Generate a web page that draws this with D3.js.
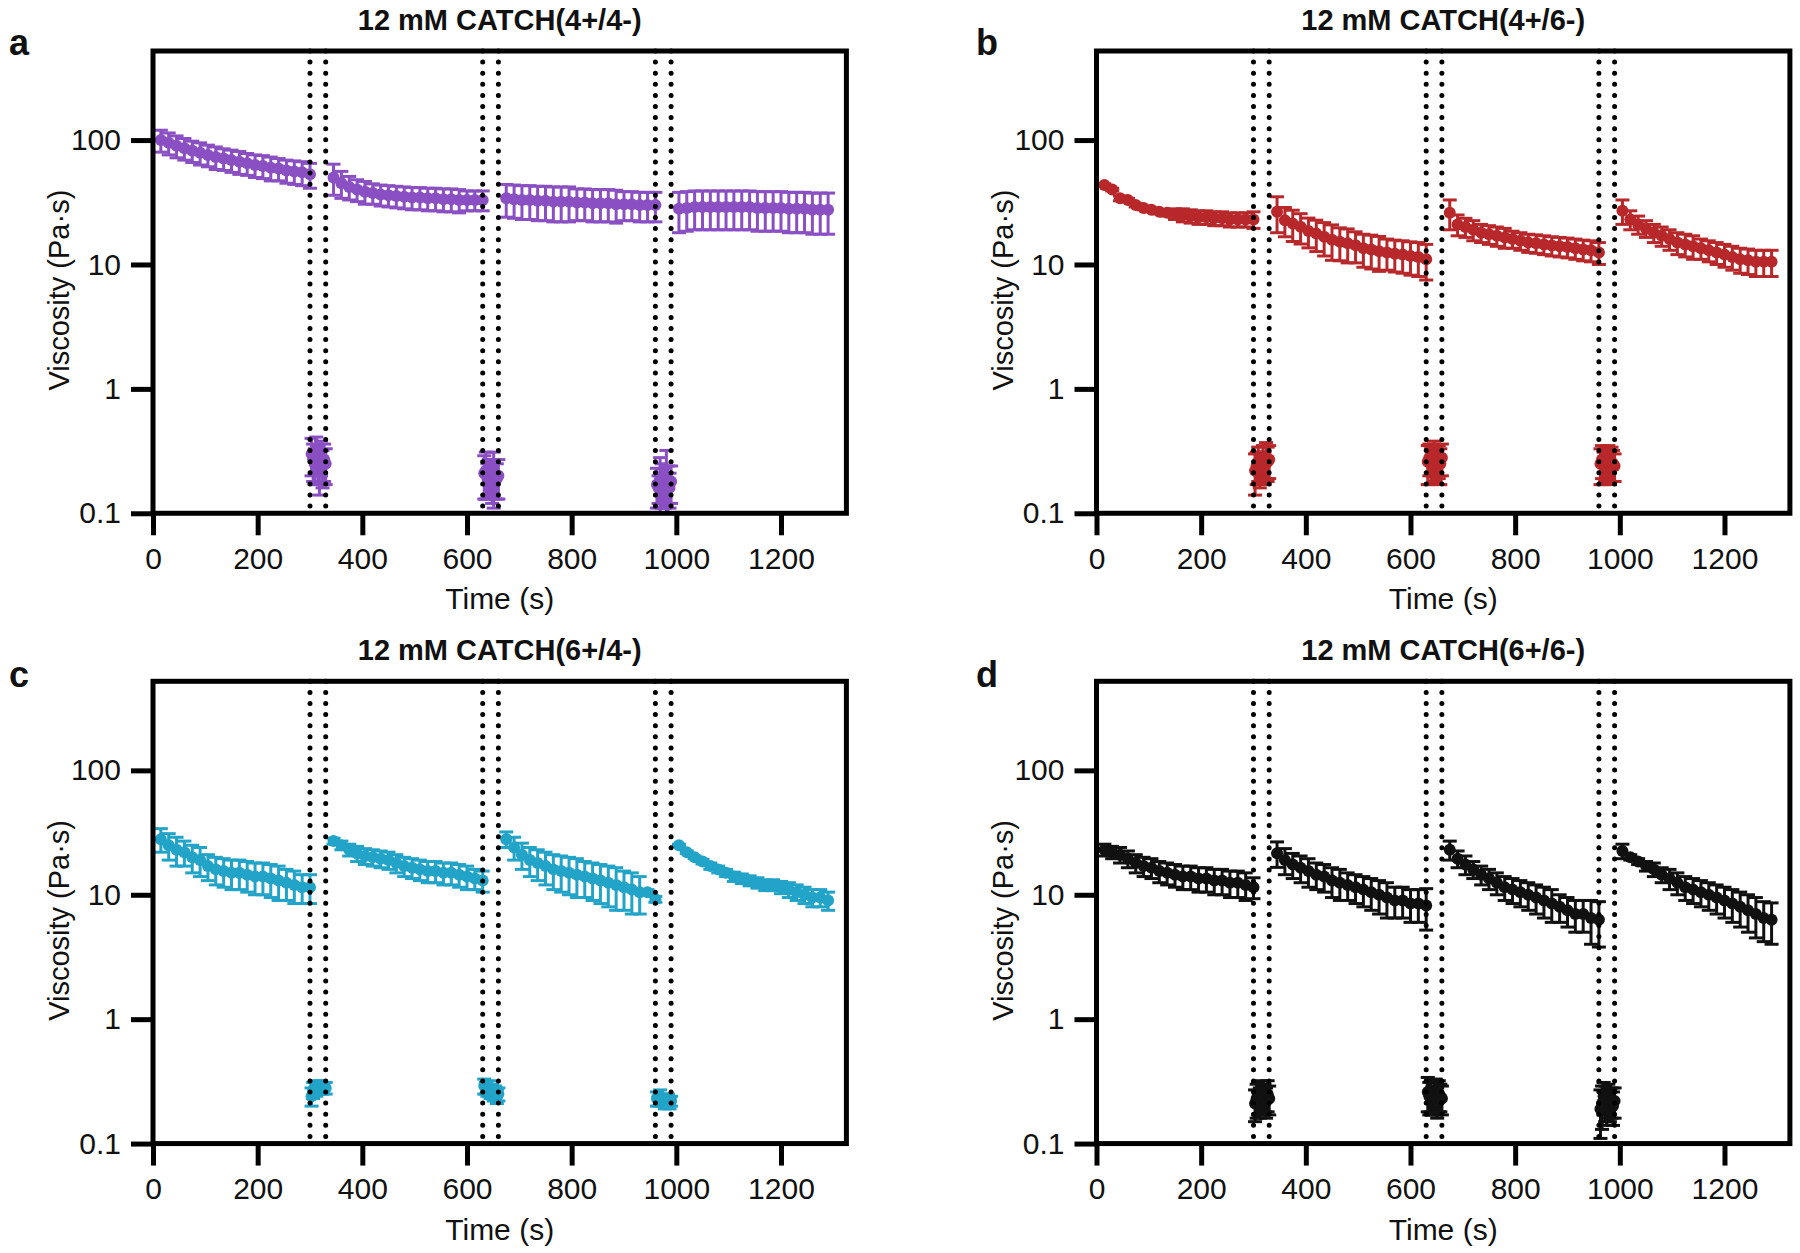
<!DOCTYPE html>
<html><head><meta charset="utf-8">
<script src="https://cdn.jsdelivr.net/npm/d3@7"></script>
<style>body{margin:0;background:#fff} svg{display:block} text{font-family:"Liberation Sans",Arial,Helvetica,sans-serif;fill:#111}</style>
</head><body><svg id="chart" width="1800" height="1253"></svg>
<script>
// ---- shared structure ----
const lowTimes = [15,30,45,60,75,90,105,120,135,150,165,180,195,210,225,240,255,270,285,300];
const highTimes = [3,6,9,12,15,18,21,24,27,30];
const lowStarts = [0,330,660,990];
const highStarts = [300,630,960];
const switchTimes = [300,330,630,660,960,990];
const xTicks = [0,200,400,600,800,1000,1200];
const xTickLabels = ["0","200","400","600","800","1000","1200"];
const yTicks = [0.1,1,10,100];
const yTickLabels = ["0.1","1","10","100"];
const titles = ["12 mM CATCH(4+/4-)","12 mM CATCH(4+/6-)","12 mM CATCH(6+/4-)","12 mM CATCH(6+/6-)"];
const letters = ["a","b","c","d"];
const colors = ["#8A4FC2","#B8282B","#22A3C8","#111111"];

// ---- panel a ----
const aLowMean = [
 [100,95,90,86,82,79,76,73,71,69,67,65,63,62,60,59,57,56,55,53],
 [50,45,42,40,38.5,37.5,36.5,36,35.5,35,34.5,34.5,34,34,33.5,33.5,33,33,33,33],
 [34,33.5,33,33,32.5,32.5,32,32,32,31.5,31.5,31,31,31,30.5,30.5,30.5,30,30,30],
 [28,28.5,29,29,29,29,29,29,29,29,28.5,28.5,28.5,28.5,28,28,28,27.5,27.5,27.5]];
const aLowErr = [
 [20,19,18,17,16,16,15,15,14,14,14,13,13,13,13,12,12,12,12,12],
 [14,11,9,8,8,7,7,7,7,7,7,7,7,7,7,7,7,6,6,6],
 [10,10,10,10,10,10,10,10,10,9,9,9,9,9,9,8,8,8,8,8],
 [10,10,10,10,10,10,10,10,10,10,10,10,10,10,10,10,10,10,10,10]];
const aHighMean = [
 [0.30,0.27,0.25,0.31,0.26,0.22,0.29,0.24,0.27,0.25],
 [0.21,0.22,0.19,0.20,0.20,0.18,0.21,0.20,0.19,0.20],
 [0.17,0.16,0.19,0.18,0.16,0.17,0.20,0.17,0.16,0.18]];
const aHighErr = [
 [0.10,0.09,0.08,0.10,0.09,0.08,0.09,0.08,0.09,0.08],
 [0.08,0.09,0.06,0.07,0.06,0.06,0.10,0.07,0.06,0.07],
 [0.06,0.04,0.09,0.07,0.05,0.06,0.12,0.07,0.05,0.06]];

// ---- panel b ----
const bLowMean = [
 [43.5,40,34,33,30,28.5,27.5,26.5,26,25.5,25,24.5,24,24,23.5,23.5,23,23,23,23],
 [26.5,22.7,21.3,20.1,18.6,17.7,16.7,15.8,15.2,14.8,14.3,13.5,13.2,12.8,12.5,12.2,12,11.7,11.5,11],
 [26,21,20,19,18,17.5,17,16.5,16,15.5,15,14.8,14.5,14.2,14,13.8,13.5,13.2,13,12.5],
 [27,23,21,19.5,18,17,16,15,14.5,14,13.5,13,12.5,12,11.5,11,10.8,10.5,10.5,10.5]];
const bLowErr = [
 [1,1,1.5,1,1,1,1,1,1.5,2.5,3,3,3,3,3,3,3,3,3,3.5],
 [8.5,6,6,5.5,5,5,5,5,4.5,4.5,4,4,4,4,3.5,3.5,3.5,3.5,3.5,3.5],
 [7,4,3.5,3.5,3,3,3,3,2.5,2.5,2.5,2.5,2.5,2.5,2.5,2.5,2.5,2.5,2.5,2.5],
 [6,4,3.5,3,3,3,3,3,3,3,2.5,2.5,2.5,2.5,2.5,2.5,2.5,2.5,2.5,2.5]];
const bHighMean = [
 [0.22,0.24,0.26,0.23,0.25,0.27,0.24,0.28,0.26,0.27],
 [0.26,0.28,0.25,0.27,0.29,0.26,0.28,0.27,0.25,0.28],
 [0.25,0.27,0.24,0.26,0.25,0.27,0.24,0.26,0.25,0.24]];
const bHighErr = [
 [0.08,0.07,0.08,0.07,0.06,0.08,0.07,0.09,0.08,0.08],
 [0.09,0.08,0.08,0.07,0.09,0.08,0.07,0.08,0.08,0.08],
 [0.08,0.08,0.07,0.08,0.07,0.08,0.07,0.08,0.07,0.06]];

// ---- panel c ----
const cLowMean = [
 [28,25,23,22,20,19,17,16,15.5,15,15,14.5,14,14,13.5,13,12.5,12,11.5,11.5],
 [27,25,23,21.5,20.5,20,19.5,19,18,17,16.5,16,15.5,15.5,15,15,14.5,14,13.5,13],
 [28,24,21,19,18,17,16,15.5,15,14.5,14,13.5,13,12.5,12,11.5,11,10.5,10.5,9.2],
 [25,22,20,18.5,17,16,15,14,13.5,13,12.5,12,12,11.5,11,10.5,10,9.5,9.5,9]];
const cLowErr = [
 [6,6,6,5,5,5,4,4,4,4,4,4,4,4,4,4,3.5,3.5,3,3],
 [1.5,2,2.5,3,3,3,3,3,3,3,3,3,3,3,3,3,3,3,2.5,2.5],
 [4,5,5,5,5,5,5,5,5,5,4.5,4.5,4.5,4.5,4.5,4,4,3.5,0.5,0.5],
 [0.5,0.5,0.5,0.8,1,1,1,1.2,1.2,1.2,1.2,1.2,1.2,1.3,1.5,1.5,1.5,1.5,1.5,1.5]];
const cHighMean = [
 [0.24,0.27,0.28,0.27,0.29,0.28,0.29,0.28,0.29,0.28],
 [0.29,0.28,0.27,0.28,0.26,0.27,0.25,0.26,0.24,0.25],
 [0.23,0.22,0.24,0.22,0.23,0.21,0.22,0.23,0.21,0.22]];
const cHighErr = [
 [0.04,0.04,0.03,0.03,0.03,0.03,0.03,0.03,0.02,0.03],
 [0.04,0.03,0.03,0.04,0.03,0.03,0.03,0.03,0.03,0.03],
 [0.03,0.02,0.03,0.02,0.02,0.02,0.02,0.02,0.02,0.02]];

// ---- panel d ----
const dLowMean = [
 [23,22,21,19.5,18,17,16.5,15.5,15,14.5,14,14,13.5,13.5,13,13,12.5,12.5,12,11.5],
 [21.6,19,17.5,16.5,15.5,14.5,14,13,12.5,12,11.5,11,10.5,10,9.5,9,9,8.5,8.5,8.2],
 [23,19.5,17.5,16,14.5,13.5,12.5,11.5,11,10.5,10,9.5,9,8.5,8,7.5,7,7,6.5,6.3],
 [22.5,20,18.5,17,16,14.5,13.5,12.5,11.5,11,10.5,10,9.5,9,8.5,8,7.5,7,6.5,6.3]];
const dLowErr = [
 [2.5,2.5,3,3,3,3,3,3,3,3,3,3,3,3,3,3,3,3,3,2.2],
 [5,4.5,4,4,4,3.5,3.5,3.5,3.5,3,3,3,3,3,3,2.5,2.5,2.5,2.5,3],
 [4,3,3,2.5,2.5,2.5,2.5,2.5,2.5,2.5,2.5,2.5,2.5,2.5,2,2,2,2,2.5,2.5],
 [3,1,1,1.5,2,2,2.5,2.5,2.5,2.5,2.5,2.5,2.5,2.5,2.5,2.5,2.5,2.5,2.3,2.3]];
const dHighMean = [
 [0.21,0.23,0.24,0.22,0.25,0.23,0.24,0.22,0.25,0.23],
 [0.26,0.24,0.25,0.23,0.24,0.26,0.22,0.25,0.24,0.23],
 [0.19,0.21,0.24,0.22,0.20,0.23,0.21,0.22,0.20,0.22]];
const dHighErr = [
 [0.06,0.07,0.07,0.06,0.07,0.06,0.06,0.06,0.07,0.06],
 [0.08,0.07,0.07,0.06,0.07,0.07,0.06,0.07,0.06,0.06],
 [0.08,0.08,0.07,0.07,0.06,0.07,0.06,0.06,0.06,0.06]];

// ---- layout ----
const panelLeft = [153, 1096.5, 153, 1096.5];
const panelTop = [51, 51, 681.3, 681.3];
const letterPos = [[9,55],[976,55],[9,687],[976,687]];
const W = 693.4, xMax = 1325, yMax = 520, decade = 124.4;
const H = (Math.log10(yMax) + 1) * decade;

const data = [
  {lowMean:aLowMean, lowErr:aLowErr, highMean:aHighMean, highErr:aHighErr},
  {lowMean:bLowMean, lowErr:bLowErr, highMean:bHighMean, highErr:bHighErr},
  {lowMean:cLowMean, lowErr:cLowErr, highMean:cHighMean, highErr:cHighErr},
  {lowMean:dLowMean, lowErr:dLowErr, highMean:dHighMean, highErr:dHighErr}];

const svg = d3.select("#chart");

data.forEach((p, i) => {
  const col = colors[i];
  const g = svg.append("g").attr("transform", `translate(${panelLeft[i]},${panelTop[i]})`);
  const x = d3.scaleLinear().domain([0, xMax]).range([0, W]);
  const y = d3.scaleLog().domain([0.1, yMax]).range([H, 0]);

  const pts = [];
  lowStarts.forEach((s, k) => lowTimes.forEach((t, j) =>
    pts.push({t: s + t, m: p.lowMean[k][j], e: p.lowErr[k][j]})));
  highStarts.forEach((s, k) => highTimes.forEach((t, j) =>
    pts.push({t: s + t, m: p.highMean[k][j], e: p.highErr[k][j]})));

  const lo = d => y(Math.max(d.m - d.e, 0.1));
  const hi = d => y(Math.min(d.m + d.e, yMax));
  const eb = g.append("g").attr("stroke", col).attr("stroke-width", 3);
  eb.selectAll("line.v").data(pts).join("line").attr("class","v")
    .attr("x1", d => x(d.t)).attr("x2", d => x(d.t)).attr("y1", lo).attr("y2", hi);
  eb.selectAll("line.ct").data(pts).join("line").attr("class","ct")
    .attr("x1", d => x(d.t) - 7).attr("x2", d => x(d.t) + 7).attr("y1", hi).attr("y2", hi);
  eb.selectAll("line.cb").data(pts).join("line").attr("class","cb")
    .attr("x1", d => x(d.t) - 7).attr("x2", d => x(d.t) + 7).attr("y1", lo).attr("y2", lo);
  g.append("g").selectAll("circle").data(pts).join("circle")
    .attr("cx", d => x(d.t)).attr("cy", d => y(d.m)).attr("r", 6).attr("fill", col);

  // dotted switch lines
  g.append("g").selectAll("line").data(switchTimes).join("line")
    .attr("x1", d => x(d)).attr("x2", d => x(d)).attr("y1", 0).attr("y2", H)
    .attr("stroke", "#000").attr("stroke-width", 5)
    .attr("stroke-linecap", "round").attr("stroke-dasharray", "0 11.1");

  // axes
  const ya = g.append("g").call(d3.axisLeft(y).tickValues(yTicks)
      .tickFormat((d, j) => yTickLabels[j]).tickSize(22).tickPadding(10));
  const xa = g.append("g").attr("transform", `translate(0,${H})`).call(d3.axisBottom(x)
      .tickValues(xTicks).tickFormat((d, j) => xTickLabels[j]).tickSize(22).tickPadding(12));
  [ya, xa].forEach(a => {
    a.select(".domain").remove();
    a.selectAll(".tick line").attr("stroke", "#000").attr("stroke-width", 5);
    a.selectAll(".tick text").attr("font-size", 30).attr("fill", "#111")
      .style("font-family", '"Liberation Sans", Arial, sans-serif');
  });

  // frame
  g.append("rect").attr("x", 0).attr("y", 0).attr("width", W).attr("height", H)
    .attr("fill", "none").attr("stroke", "#000").attr("stroke-width", 5);

  // labels
  g.append("text").attr("x", W / 2).attr("y", H + 96).attr("text-anchor", "middle")
    .attr("font-size", 30).text("Time (s)");
  g.append("text").attr("transform", `translate(-84,${H / 2 + 8}) rotate(-90)`)
    .attr("text-anchor", "middle").attr("font-size", 29).text("Viscosity (Pa·s)");
  g.append("text").attr("x", W / 2).attr("y", -21).attr("text-anchor", "middle")
    .attr("font-size", 29).attr("font-weight", "bold").text(titles[i]);
  svg.append("text").attr("x", letterPos[i][0]).attr("y", letterPos[i][1])
    .attr("font-size", 36).attr("font-weight", "bold").text(letters[i]);
});
</script>
</body></html>
